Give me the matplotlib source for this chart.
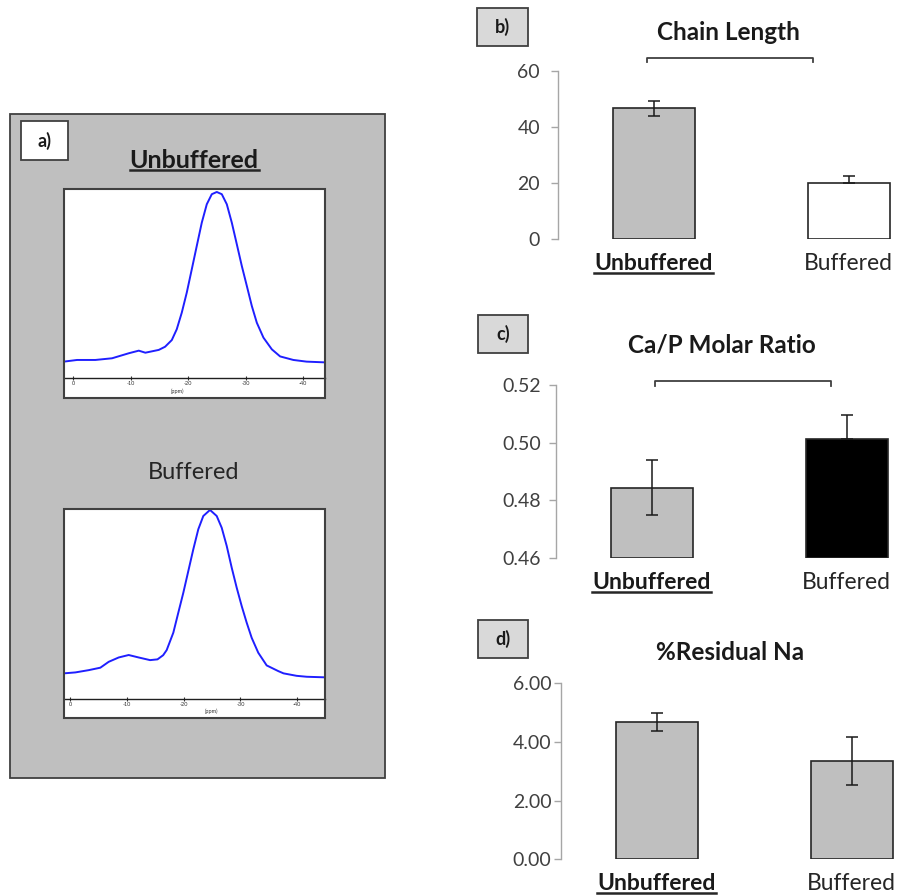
import matplotlib
matplotlib.use('Agg')
import matplotlib.pyplot as plt
from matplotlib.patches import Rectangle
from matplotlib.lines import Line2D

plt.rcParams['font.family'] = ['Lato', 'DejaVu Sans']

W, H = 901, 896

# ---------------- data ----------------
groups = ['Unbuffered', 'Buffered']

chain_length = [46.6, 19.9]
chain_err_low = [2.6, 0.0]
chain_err_high = [2.6, 2.7]
chain_ticks = [0, 20, 40, 60]
chain_ticklabels = ['0', '20', '40', '60']

ca_p_ratio = [0.4843, 0.5011]
ca_p_err_low = [0.0095, 0.0]
ca_p_err_high = [0.0095, 0.0085]
ratio_ticks = [0.46, 0.48, 0.50, 0.52]
ratio_ticklabels = ['0.46', '0.48', '0.50', '0.52']

residual_na = [4.69, 3.35]
na_err = [0.31, 0.82]
na_ticks = [0, 2, 4, 6]
na_ticklabels = ['0.00', '2.00', '4.00', '6.00']

ppm_ticks = [0, -10, -20, -30, -40]
ppm_ticklabels = ['0', '-10', '-20', '-30', '-40']

unbuf_ppm = [1.6, -0.70, -3.88, -6.78, -9.69, -11.43, -12.57, -14.9, -16.0, -17.17,
             -18.03, -18.90, -19.77, -20.64, -21.51, -22.38, -23.25, -24.12, -24.99,
             -25.86, -26.73, -27.60, -28.47, -29.34, -30.21, -31.08, -31.95, -33.10,
             -34.56, -36.0, -38.3, -40.6, -43.8]
unbuf_int = [0.088, 0.097, 0.097, 0.106, 0.133, 0.147, 0.136, 0.151, 0.168, 0.204,
             0.262, 0.351, 0.459, 0.584, 0.710, 0.835, 0.934, 0.988, 1.000,
             0.988, 0.934, 0.835, 0.719, 0.602, 0.495, 0.387, 0.297, 0.217,
             0.154, 0.116, 0.097, 0.088, 0.084]

buf_ppm = [1.1, -0.94, -3.29, -5.34, -6.81, -8.57, -10.33, -12.09, -14.1, -15.4,
           -16.4, -17.02, -18.19, -19.07, -19.95, -20.83, -21.71, -22.59, -23.47,
           -24.65, -25.83, -26.71, -27.59, -28.47, -29.35, -30.23, -31.11, -31.99,
           -33.15, -34.63, -36.67, -37.6, -39.9, -41.7, -44.9]
buf_int = [0.136, 0.141, 0.153, 0.166, 0.197, 0.220, 0.233, 0.220, 0.206, 0.210,
           0.232, 0.259, 0.351, 0.457, 0.562, 0.677, 0.792, 0.898, 0.968,
           1.000, 0.968, 0.906, 0.810, 0.695, 0.589, 0.492, 0.404, 0.324,
           0.245, 0.178, 0.148, 0.136, 0.123, 0.118, 0.115]

# ---------------- helpers ----------------
fig = plt.figure(figsize=(W / 100, H / 100), dpi=100)


def rect(x0, y0, x1, y1):
    return [x0 / W, 1 - y1 / H, (x1 - x0) / W, (y1 - y0) / H]


def fx(x):
    return x / W


def fy(y):
    return 1 - y / H


def fig_box(x0, y0, x1, y1, fc, ec='#404040', lw=1.3, z=1):
    fig.patches.append(Rectangle((fx(x0), fy(y1)), (x1 - x0) / W, (y1 - y0) / H,
                                 transform=fig.transFigure, facecolor=fc,
                                 edgecolor=ec, linewidth=lw, zorder=z))


def fig_line(xs, ys, color='#404040', lw=1.3):
    fig.add_artist(Line2D([fx(x) for x in xs], [fy(y) for y in ys],
                          transform=fig.transFigure, color=color, lw=lw))


underlined = []

# ---------------- panel a ----------------
fig_box(10, 114, 385, 778, '#bfbfbf', z=-2)
fig_box(21, 121, 68, 160, 'white', z=1)
fig.text(fx(44.5), fy(140.5), 'a)', ha='center', va='center', fontsize=13,
         fontweight='bold', color='#1a1a1a')
t = fig.text(fx(194), fy(160), 'Unbuffered', ha='center', va='center',
             fontsize=18, fontweight='bold', color='#1a1a1a')
underlined.append(t)
fig.text(fx(194), fy(472), 'Buffered', ha='center', va='center',
         fontsize=17, color='#262626')


def spectrum(box, ppm, inten, xlim, ylim, ppm_label_x):
    ax = fig.add_axes(rect(*box))
    ax.set_zorder(5)
    ax.set_facecolor('white')
    ax.plot(ppm, inten, color='#1f1fff', lw=1.4, solid_joinstyle='round',
            solid_capstyle='round')
    ax.set_xlim(*xlim)
    ax.set_ylim(*ylim)
    for s in ['top', 'right', 'left']:
        ax.spines[s].set_visible(False)
    ax.spines['bottom'].set_position(('data', 0))
    ax.spines['bottom'].set_color('#202020')
    ax.spines['bottom'].set_linewidth(1.0)
    ax.set_yticks([])
    ax.set_xticks(ppm_ticks)
    ax.set_xticklabels(ppm_ticklabels)
    ax.tick_params(axis='x', direction='inout', length=2.5, width=0.8,
                   labelsize=4, pad=1, colors='#303030')
    ax.add_patch(Rectangle((0, 0), 1, 1, transform=ax.transAxes, fill=False,
                           edgecolor='#404040', lw=1.5, clip_on=False, zorder=5))
    ax.text(ppm_label_x, ylim[0] + 0.02, '(ppm)', ha='center', va='bottom',
            fontsize=4, color='#303030')
    return ax


spectrum((64, 189, 325, 398), unbuf_ppm, unbuf_int, (1.57, -43.8), (-0.1075, 1.016), -18.1)
spectrum((64, 509, 325, 718), buf_ppm, buf_int, (1.06, -44.9), (-0.10, 1.005), -25.0)

# ---------------- bar panels ----------------
XLIM = (-0.49, 1.27)
SPACING = 195


def bar_panel(axis_x, top, bottom, values, err_lo, err_hi, colors, ticks, ticklabels,
              ylim, pad, title, title_xy, label_box, label, bracket=None):
    ax = fig.add_axes(rect(axis_x, top, axis_x + (XLIM[1] - XLIM[0]) * SPACING, bottom))
    ax.patch.set_alpha(0)
    base = ylim[0]
    heights = [v - base for v in values]
    ax.bar([0, 1], heights, bottom=base, width=0.42, color=colors,
           edgecolor='#262626', linewidth=1.2, zorder=2)
    ax.errorbar([0, 1], values, yerr=[err_lo, err_hi], fmt='none', ecolor='#1a1a1a',
                elinewidth=1.1, capsize=4, capthick=1.1, zorder=3)
    ax.set_xlim(*XLIM)
    ax.set_ylim(*ylim)
    for s in ['top', 'right', 'bottom']:
        ax.spines[s].set_visible(False)
    ax.spines['left'].set_color('#a6a6a6')
    ax.spines['left'].set_linewidth(1.0)
    ax.set_yticks(ticks)
    ax.set_yticklabels(ticklabels)
    ax.tick_params(axis='y', length=5, width=1.0, color='#a6a6a6', labelsize=14,
                   labelcolor='#404040', pad=pad)
    ax.set_xticks([0, 1])
    ax.set_xticklabels(groups)
    ax.tick_params(axis='x', length=0, labelsize=16.5, labelcolor='#262626', pad=10)
    lbls = ax.get_xticklabels()
    lbls[0].set_fontweight('bold')
    lbls[0].set_color('#1a1a1a')
    underlined.append(lbls[0])
    fig.text(fx(title_xy[0]), fy(title_xy[1]), title, ha='center', va='center',
             fontsize=17.5, fontweight='bold', color='#1a1a1a')
    x0, y0, x1, y1 = label_box
    fig_box(x0, y0, x1, y1, '#d9d9d9', z=1)
    fig.text(fx((x0 + x1) / 2), fy((y0 + y1) / 2), label, ha='center', va='center',
             fontsize=13, fontweight='bold', color='#1a1a1a')
    if bracket is not None:
        bx0, bx1, by, bleg = bracket
        fig_line([bx0, bx0, bx1, bx1], [by + bleg, by, by, by + bleg], lw=1.3)
    return ax


bar_panel(558, 70.7, 239, chain_length, chain_err_low, chain_err_high,
          ['#bfbfbf', 'white'], chain_ticks, chain_ticklabels, (0, 60), 8,
          'Chain Length', (728, 33), (477, 8, 528, 46), 'b)', (647, 813, 58, 4))

bar_panel(556, 385, 557.7, ca_p_ratio, ca_p_err_low, ca_p_err_high,
          ['#bfbfbf', 'black'], ratio_ticks, ratio_ticklabels, (0.46, 0.52), 6,
          'Ca/P Molar Ratio', (722, 345), (478, 315, 528, 353), 'c)', (655, 831, 381, 5))

bar_panel(561, 683.3, 859.3, residual_na, na_err, na_err,
          ['#bfbfbf', '#bfbfbf'], na_ticks, na_ticklabels, (0, 6), 2,
          '%Residual Na', (730, 652), (478, 620, 528, 658), 'd)')

# ---------------- underlines ----------------
fig.canvas.draw()
renderer = fig.canvas.get_renderer()
for txt in underlined:
    bb = txt.get_window_extent(renderer)
    yline = bb.y0 + 1
    fig.add_artist(Line2D([bb.x0 / W, bb.x1 / W], [yline / H, yline / H],
                          transform=fig.transFigure, color='#262626', lw=1.8))

fig.savefig('out.png', dpi=100)
